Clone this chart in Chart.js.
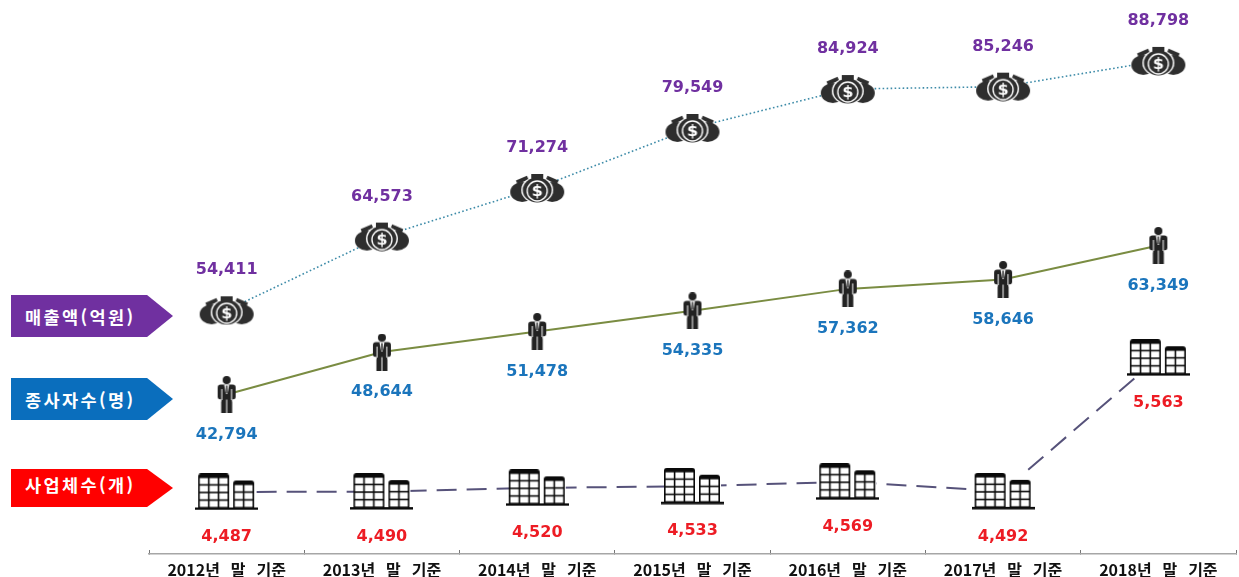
<!DOCTYPE html>
<html lang="ko">
<head>
<meta charset="utf-8">
<style>
    html, body { margin: 0; padding: 0; background: #fff; overflow: hidden; }
    #wrap { position: relative; width: 1239px; height: 577px; }
    .tag {
        position: absolute; left: 11px; color: #fff;
        font: bold 17.5px "Noto Sans CJK KR", sans-serif;
        letter-spacing: 2.4px;
        display: flex; align-items: center; padding-left: 14px; box-sizing: border-box;
        clip-path: polygon(0 0, 84% 0, 100% 50%, 84% 100%, 0 100%);
        width: 162px;
        white-space: nowrap;
    }
</style>
</head>
<body>
<div id="wrap">
    <canvas id="myChart" width="1239" height="577"></canvas>
    <div class="tag" style="top:295px;height:42px;background:#7030a0">매출액(억원)</div>
    <div class="tag" style="top:378px;height:42px;background:#0a6ebd">종사자수(명)</div>
    <div class="tag" style="top:469px;height:38px;background:#ff0000;padding-bottom:8px">사업체수(개)</div>
</div>
<script src="https://cdn.jsdelivr.net/npm/chart.js@4"></script>
<script>
const years = ['2012년   말   기준', '2013년   말   기준', '2014년   말   기준', '2015년   말   기준', '2016년   말   기준', '2017년   말   기준', '2018년   말   기준'];
const revenue = [54411, 64573, 71274, 79549, 84924, 85246, 88798];
const employees = [42794, 48644, 51478, 54335, 57362, 58646, 63349];
const businesses = [4487, 4490, 4520, 4533, 4569, 4492, 5563];

function newIcon(w, h) {
    const c = document.createElement('canvas');
    c.width = w;
    c.height = h;
    return c;
}

// money bags
function moneyIcon() {
    const c = newIcon(56, 30);
    const ctx = c.getContext('2d');
    const dark = '#2e2e2e';
    ctx.fillStyle = dark;
    ctx.beginPath(); ctx.ellipse(13, 19, 12, 10, 0, 0, Math.PI * 2); ctx.fill();
    ctx.beginPath(); ctx.ellipse(43, 19, 12, 10, 0, 0, Math.PI * 2); ctx.fill();
    // tilted necks of the side bags
    ctx.save(); ctx.translate(13, 7); ctx.rotate(-0.4); ctx.fillRect(-6, -2, 12, 4); ctx.restore();
    ctx.save(); ctx.translate(43, 7); ctx.rotate(0.4); ctx.fillRect(-6, -2, 12, 4); ctx.restore();
    ctx.fillStyle = '#fff';
    ctx.beginPath(); ctx.ellipse(28, 17, 16, 13.5, 0, 0, Math.PI * 2); ctx.fill();
    ctx.fillRect(20, 0, 16, 6);
    ctx.fillStyle = dark;
    ctx.beginPath(); ctx.ellipse(28, 17, 14.5, 12.5, 0, 0, Math.PI * 2); ctx.fill();
    ctx.fillRect(22, 1, 12, 5);
    ctx.strokeStyle = '#fff';
    ctx.lineWidth = 1.4;
    ctx.beginPath(); ctx.arc(28, 18, 10, 0, Math.PI * 2); ctx.stroke();
    ctx.fillStyle = '#fff';
    ctx.font = 'bold 16px "DejaVu Sans"';
    ctx.textAlign = 'center';
    ctx.textBaseline = 'middle';
    ctx.fillText('$', 28, 18.5);
    return c;
}

// man in a suit
function personIcon() {
    const c = newIcon(20, 37);
    const ctx = c.getContext('2d');
    const dark = '#222';
    ctx.fillStyle = dark;
    ctx.beginPath(); ctx.arc(10, 4, 4, 0, Math.PI * 2); ctx.fill();
    ctx.beginPath(); ctx.roundRect(1, 8.5, 18, 15, 3); ctx.fill();
    ctx.fillRect(4.5, 20, 5, 17);
    ctx.fillRect(10.5, 20, 5, 17);
    ctx.fillStyle = '#fff';
    ctx.fillRect(4.6, 13, 1, 11);
    ctx.fillRect(14.4, 13, 1, 11);
    ctx.fillRect(0, 23.5, 4.5, 2);
    ctx.fillRect(15.5, 23.5, 4.5, 2);
    ctx.beginPath(); ctx.moveTo(7.5, 8.5); ctx.lineTo(12.5, 8.5); ctx.lineTo(10.8, 18); ctx.lineTo(9.2, 18); ctx.fill();
    ctx.fillStyle = dark;
    ctx.fillRect(9.3, 9.5, 1.4, 8);
    return c;
}

// two office blocks on a base line
function buildingIcon() {
    const c = newIcon(63, 37);
    const ctx = c.getContext('2d');
    const dark = '#0a0a0a';
    function block(x, y, w, h, cols, rows) {
        const bar = 1.6;
        ctx.fillStyle = dark;
        ctx.beginPath(); ctx.roundRect(x, y, w, h, [3, 3, 0, 0]); ctx.fill();
        const cellW = (w - (cols + 1) * bar) / cols;
        const top = y + 3;
        const cellH = (h - 3 - (rows + 1) * bar) / rows;
        ctx.fillStyle = '#fff';
        for (let i = 0; i < cols; i++) {
            for (let j = 0; j < rows; j++) {
                ctx.fillRect(x + bar + i * (cellW + bar), top + bar + j * (cellH + bar), cellW, cellH);
            }
        }
    }
    ctx.fillStyle = '#fff';
    ctx.fillRect(3, 0, 57, 35);
    block(3, 0, 31, 35, 3, 4);
    block(38, 7, 21, 28, 2, 3);
    ctx.fillStyle = dark;
    ctx.fillRect(0, 34, 63, 2.5);
    return c;
}

// value labels, offset from each point
const valueLabels = {
    id: 'valueLabels',
    afterDatasetsDraw(chart) {
        const ctx = chart.ctx;
        ctx.save();
        ctx.font = 'bold 16px "DejaVu Sans"';
        ctx.textAlign = 'center';
        ctx.textBaseline = 'middle';
        chart.data.datasets.forEach((ds, i) => {
            ctx.fillStyle = ds.labelColor;
            chart.getDatasetMeta(i).data.forEach((pt, j) => {
                ctx.fillText(ds.data[j].toLocaleString('en-US'), pt.x, pt.y + ds.labelOffset);
            });
        });
        ctx.restore();
    }
};

const configuration = {
    type: 'line',
    data: {
        labels: years,
        datasets: [{
            label: '매출액(억원)',
            data: revenue,
            yAxisID: 'y',
            borderColor: '#3d8ba8',
            borderWidth: 1.6,
            borderDash: [1.6, 2.4],
            pointStyle: moneyIcon(),
            labelColor: '#7030a0',
            labelOffset: -40,
        }, {
            label: '종사자수(명)',
            data: employees,
            yAxisID: 'y',
            borderColor: '#7a8c42',
            borderWidth: 2,
            pointStyle: personIcon(),
            labelColor: '#1b75bc',
            labelOffset: 40,
        }, {
            label: '사업체수(개)',
            data: businesses,
            yAxisID: 'y2',
            borderColor: '#56527a',
            borderWidth: 2,
            borderDash: [20, 10],
            pointStyle: buildingIcon(),
            labelColor: '#ed1c24',
            labelOffset: 45,
        }],
    },
    options: {
        responsive: false,
        animation: false,
        layout: { autoPadding: false, padding: { left: 149, right: 3, top: 0, bottom: 0 } },
        plugins: { legend: { display: false }, tooltip: { enabled: false } },
        scales: {
            x: {
                offset: true,
                afterFit: (scale) => { scale.height = 23; },
                border: { color: '#a6a6a6', width: 1.5 },
                grid: { offset: true, drawOnChartArea: false, color: '#777', tickLength: -4 },
                ticks: {
                    color: '#111',
                    maxRotation: 0,
                    autoSkip: false,
                    padding: 10,
                    font: { family: '"Noto Sans CJK KR"', size: 16, weight: 'bold' },
                },
            },
            y: { display: false, min: 20800, max: 97200 },
            y2: { display: false, min: 3990, max: 8430 },
        },
    },
    plugins: [valueLabels],
};

new Chart(document.getElementById('myChart'), configuration);
</script>
</body>
</html>
